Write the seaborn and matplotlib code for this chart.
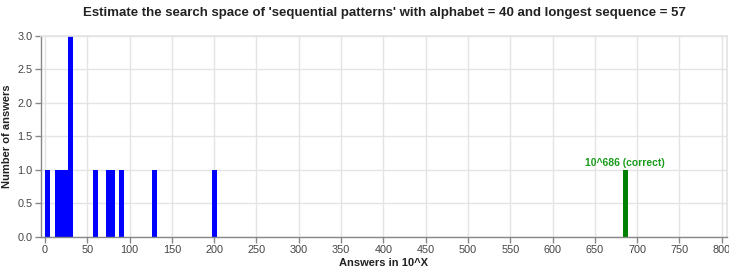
import matplotlib
matplotlib.use("Agg")
import matplotlib.pyplot as plt
import seaborn as sns
import pandas as pd

answers = [3, 15, 20, 25, 30, 60, 75, 80, 90, 130, 200, 686]
counts = [1, 1, 1, 1, 3, 1, 1, 1, 1, 1, 1, 1]
correct_answer = 686
title = "Estimate the search space of 'sequential patterns' with alphabet = 40 and longest sequence = 57"
xlabel = "Answers in 10^X"
ylabel = "Number of answers"
xticks = list(range(0, 801, 50))
yticks = [0.0, 0.5, 1.0, 1.5, 2.0, 2.5, 3.0]

sns.set_theme(style="white")
plt.rcParams['font.family'] = ['Liberation Sans', 'DejaVu Sans']

df = pd.DataFrame({
    "answer": answers,
    "count": counts,
    "kind": ["correct" if a == correct_answer else "wrong" for a in answers],
})

fig = plt.figure(figsize=(7.29, 2.71), dpi=100)
ax = fig.add_axes([0.0558, 0.1255, 0.9412, 0.7425])

sns.barplot(data=df, x="answer", y="count", hue="kind", native_scale=True,
            palette={"wrong": "#0000ff", "correct": "#008000"}, dodge=False,
            width=1.2, legend=False, ax=ax, linewidth=0, saturation=1)

ax.set_xlim(-5, 806)
ax.set_ylim(0, 3)
ax.set_xticks(xticks)
ax.set_yticks(yticks)
ax.set_xticklabels([str(t) for t in xticks])
ax.set_yticklabels([f"{t:.1f}" for t in yticks])
ax.grid(True, color="#e4e4e4", linewidth=1)
ax.set_axisbelow(True)
for s in ["top", "right"]:
    ax.spines[s].set_color("#e4e4e4")
for s in ["left", "bottom"]:
    ax.spines[s].set_color("#888888")
    ax.spines[s].set_linewidth(1)
ax.tick_params(axis="both", which="both", length=4, width=1, color="#888888",
               labelsize=7.8, labelcolor="#444444", pad=2, bottom=True, left=True)

ax.set_xlabel(xlabel, fontsize=8, fontweight="bold", color="#222222", labelpad=2)
ax.set_ylabel(ylabel, fontsize=8, fontweight="bold", color="#222222", labelpad=4)
fig.suptitle(title, x=0.527, y=0.975, fontsize=9.5, fontweight="bold", color="#222222")

correct_count = counts[answers.index(correct_answer)]
ax.text(correct_answer, correct_count + 0.03, f"10^{correct_answer} (correct)",
        ha="center", va="bottom", color="#1a9c1a", fontsize=7.5, fontweight="bold")

fig.savefig("out.png", dpi=100)
